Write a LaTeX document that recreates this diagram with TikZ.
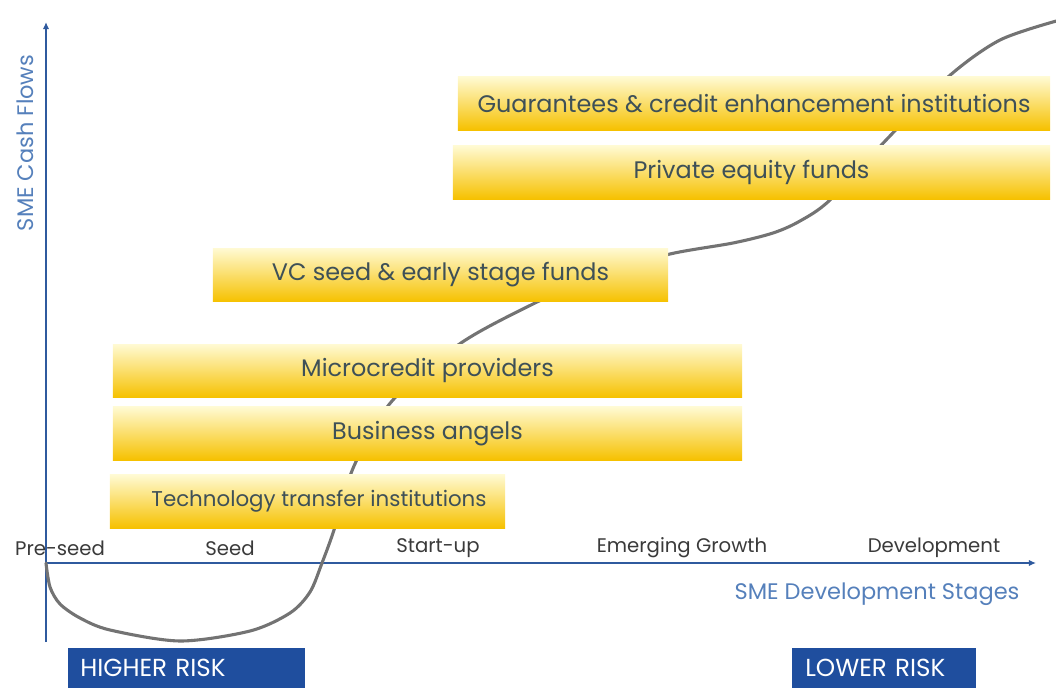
\documentclass[tikz,border=0pt]{standalone}
\usepackage{fontspec}
\setmainfont{Poppins}
\usetikzlibrary{positioning,arrows.meta}
\definecolor{axisblue}{HTML}{2F5A9E}
\definecolor{labelblue}{HTML}{5580BB}
\definecolor{riskblue}{HTML}{1F4E9E}
\definecolor{curvegray}{HTML}{737373}
\definecolor{bartext}{HTML}{3E5057}
\definecolor{barlight}{HTML}{FFFAD2}
\definecolor{bargold}{HTML}{F6C100}
\definecolor{stagetext}{HTML}{3A3A3A}
\tikzset{
  fundbar/.style={top color=barlight, bottom color=bargold, text=bartext,
    inner sep=0pt, minimum width=#1, minimum height=1.33cm,
    font=\fontsize{17}{20}\selectfont},
  stagelabel/.style={text=stagetext, inner sep=0pt, font=\fontsize{14}{16}\selectfont},
  axislabel/.style={text=labelblue, inner sep=0pt, font=\fontsize{16}{19}\selectfont},
  riskbox/.style={fill=riskblue, text=white, inner ysep=0pt, minimum height=1cm,
    align=left, font=\fontsize{17.5}{20}\selectfont},
}

\begin{document}
\begin{tikzpicture}[x=0.025cm, y=-0.025cm]
	\useasboundingbox (0,0) rectangle (1056,688);
	\clip (0,0) rectangle (1056,688);
	% axes
	\coordinate (O) at (46,563);
	\coordinate (ytop) at (46,22);
	\coordinate (ybot) at (46,642);
	\coordinate (xend) at (1036,563);
	\draw[axisblue, line width=1.3pt, -{Latex[length=5pt,width=4.5pt]}] (ybot) -- (ytop);
	\draw[axisblue, line width=1.3pt, -{Latex[length=5pt,width=4.5pt]}] (O) -- (xend);
	\node[axislabel, rotate=90] (cashflow) at (25,143) {SME Cash Flows};
	\node[axislabel] (stages) at (877,594) {SME Development Stages};
	% cash flow curve
	\draw[curvegray, line width=2.2pt, line cap=round] plot[smooth, tension=0.5] coordinates {
		(46,563) (50,587) (60,604) (80,618) (110,630) (180,641) (250,631) (290,613)
		(310,592) (322,563) (334,530) (354,466) (392,401) (461,343) (535,303)
		(600,274) (670,254) (733,243) (773,233) (800,221) (830,200) (888,138)
		(948,77) (1000,40) (1060,20)};
	% funding sources
	\node[fundbar=14.8cm] (guarantee) at (754,103.5) {Guarantees \& credit enhancement institutions};
	\node[fundbar=14.925cm] (equity) at (751.5,172.5) {Private equity funds};
	\node[fundbar=11.375cm] (vcfunds) at (440.5,275) {VC seed \& early stage funds};
	\node[fundbar=15.725cm] (microcredit) at (427.5,371) {Microcredit providers};
	\node[fundbar=15.725cm] (angels) at (427.5,433.5) {Business angels};
	\node[fundbar=9.875cm, font=\fontsize{15.2}{18}\selectfont] (techtransfer) at (307.5,501.5) {\hspace*{0.575cm}Technology transfer institutions};
	% stages
	\node[stagelabel] (preseed) at (60,548) {Pre-seed};
	\node[stagelabel] (seed) at (230,548) {Seed};
	\node[stagelabel] (startup) at (438,548) {Start-up};
	\node[stagelabel] (growth) at (682,548) {Emerging Growth};
	\node[stagelabel] (develop) at (934,548) {Development};
	% risk
	\node[riskbox, anchor=north west, text width=5.325cm, inner xsep=0.3cm] (higher) at (68,648) {HIGHER RISK};
	\node[riskbox, anchor=north west, text width=3.95cm, inner xsep=0.325cm] (lower) at (792,648) {LOWER RISK};
\end{tikzpicture}
\end{document}
